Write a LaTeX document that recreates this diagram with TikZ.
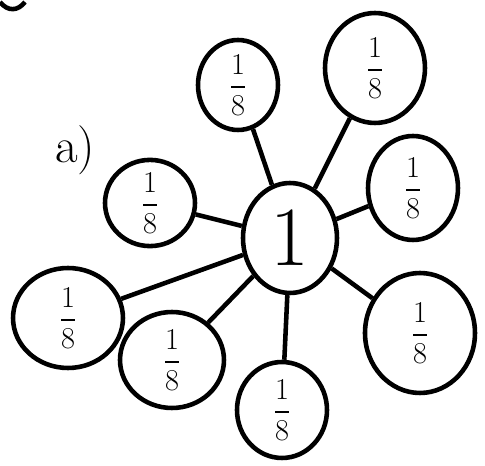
\documentclass[tikz,border=0pt]{standalone}
\usepackage{amsmath}
\usetikzlibrary{shapes.geometric}
\tikzset{
    part/.style={draw, ellipse, line width=2.6pt, inner sep=0pt, font=\fontsize{19}{22}\selectfont},
    whole/.style={draw, ellipse, line width=2.6pt, inner sep=0pt, font=\fontsize{48}{52}\selectfont},
    spoke/.style={line width=2.6pt}
}
\newcommand{\eighth}{$\dfrac{1}{8}$}
\begin{document}
\begin{tikzpicture}[x=0.02cm, y=-0.02cm]
    \useasboundingbox (0,0) rectangle (485,466);
    % leftover stroke in the corner
    \draw[line width=2.6pt] (0,2) .. controls (8,12) and (18,11) .. (25,2);

    % the whole
    \node[whole, minimum width=1.88cm, minimum height=2.2cm] (one) at (290,238) {1};

    % the eight parts
    \node[part, minimum width=1.8cm, minimum height=1.52cm] (tl) at (150,203) {\eighth};
    \node[part, minimum width=1.6cm, minimum height=1.8cm] (t) at (238,85) {\eighth};
    \node[part, minimum width=2.0cm, minimum height=2.2cm] (tr) at (375,68) {\eighth};
    \node[part, minimum width=1.8cm, minimum height=2.08cm] (r) at (413,188) {\eighth};
    \node[part, minimum width=2.2cm, minimum height=2.4cm] (br) at (420,333) {\eighth};
    \node[part, minimum width=1.8cm, minimum height=1.92cm] (b) at (282,410) {\eighth};
    \node[part, minimum width=2.08cm, minimum height=1.92cm] (bl) at (172,360) {\eighth};
    \node[part, minimum width=2.2cm, minimum height=2.0cm] (l) at (68,318) {\eighth};

    % spokes
    \foreach \p in {tl,t,tr,r,br,b,bl,l}
        \draw[spoke] (one) -- (\p);

    \node[font=\fontsize{28}{30}\selectfont] (lbl) at (75,150) {a)};
\end{tikzpicture}
\end{document}
